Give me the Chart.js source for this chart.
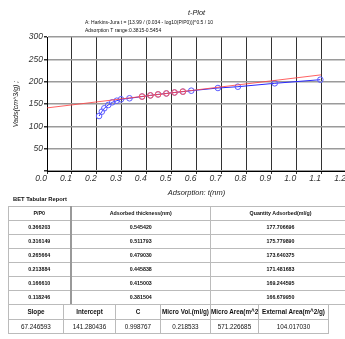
<!DOCTYPE html>
<html><head><meta charset="utf-8">
<script src="https://cdn.jsdelivr.net/npm/chart.js@4.4.0/dist/chart.umd.min.js"></script>
<style>
html,body{margin:0;padding:0;background:#fff;width:345px;height:339px;overflow:hidden;position:relative;font-family:"Liberation Sans",Arial,sans-serif;}
#wrap{position:absolute;left:0;top:0;width:345px;height:200px;overflow:hidden;}
#report{position:absolute;left:13px;top:196px;font-size:5.8px;font-weight:bold;color:#111;}
table{position:absolute;border-collapse:collapse;table-layout:fixed;color:#111;}
td{border:1px solid #bbb;text-align:center;white-space:nowrap;overflow:hidden;padding:0;height:13px;line-height:13px;}
#t1{left:8px;top:206px;width:342px;font-size:5.3px;font-weight:bold;border:1px solid #000;}
#t1 td:first-child{border-right:2px solid #999;}
#t2{left:8px;top:304px;width:320px;font-size:6.3px;border:1px solid #000;}
#t2 td{height:13.5px;line-height:13.5px;}
#t2 tr.h td{font-weight:bold;}
</style></head>
<body>
<div id="wrap"><canvas id="c" width="360" height="200" style="width:360px;height:200px"></canvas></div>
<div id="report">BET Tabular Report</div>
<table id="t1"><colgroup><col style="width:62px"><col style="width:140px"><col style="width:140px"></colgroup><tbody id="b1"></tbody></table>
<table id="t2"><colgroup><col style="width:55px"><col style="width:52px"><col style="width:45px"><col style="width:50px"><col style="width:48px"><col style="width:70px"></colgroup><tbody id="b2"></tbody></table>
<script>
// ---- data ----
const titleText = "t-Plot";
const subtitleLines = ["A: Harkins-Jura t = [13.99 / (0.034 - log10(P/P0))]^0.5 / 10", "Adsorption T range:0.3815-0.5454"];
const xTitle = "Adsorption: t(nm)";
const yTitle = "Vads(cm^3/g) ;";
const blueT = [0.209,0.220,0.230,0.246,0.262,0.280,0.297,0.331,0.3815,0.4150,0.4458,0.4790,0.5118,0.5454,0.579,0.686,0.766,0.914,1.097];
const blueQ = [123.1,132.8,140.4,147.8,153.8,157.4,160.5,162.8,166.68,169.24,171.48,173.64,175.78,177.71,179.8,185.8,188.7,196.3,204.4];
const pp0 = ["0.366203","0.316149","0.265664","0.213884","0.166610","0.118246"];
const thickness = ["0.545420","0.511793","0.479030","0.445838","0.415003","0.381504"];
const quantity = ["177.706696","175.779890","173.640375","171.481683","169.244595","166.679950"];
const fitT = [0, 1.1];
const fitQ = [141.28, 215.25];
const tableHeader = ["P/P0","Adsorbed thickness(nm)","Quantity Adsorbed(ml/g)"];
const summaryHeader = ["Slope","Intercept","C","Micro Vol.(ml/g)","Micro Area(m^2/g)","External Area(m^2/g)"];
const summaryValues = ["67.246593","141.280436","0.998767","0.218533","571.226685","104.017030"];
const xTicks = [0,1.2,0.1];
const yTicks = [0,300,50];

// ---- tables ----
function row(cells, cls){const tr=document.createElement('tr'); if(cls) tr.className=cls; cells.forEach(c=>{const td=document.createElement('td'); td.textContent=c; tr.appendChild(td);}); return tr;}
const b1=document.getElementById('b1');
b1.appendChild(row(tableHeader));
pp0.forEach((p,i)=>b1.appendChild(row([p,thickness[i],quantity[i]])));
const b2=document.getElementById('b2');
b2.appendChild(row(summaryHeader,'h'));
b2.appendChild(row(summaryValues));

// ---- chart ----
const FONT = "'Liberation Sans', Arial, sans-serif";
const textPlugin = {
  id:'texts',
  afterDraw(chart){
    const ctx=chart.ctx; const a=chart.chartArea;
    ctx.save();
    ctx.fillStyle='#111';
    ctx.textBaseline='middle';
    ctx.textAlign='center';
    ctx.font="italic 7.3px "+FONT;
    ctx.fillText(titleText,(a.left+a.right)/2,12.5);
    ctx.textAlign='left';
    ctx.font="5px "+FONT;
    ctx.fillText(subtitleLines[0],85,22.5);
    ctx.fillText(subtitleLines[1],85,31);
    ctx.restore();
  }
};
const tickFont={family:FONT,size:8.5,style:'italic'};
new Chart(document.getElementById('c'),{
  type:'scatter',
  data:{datasets:[
    {label:'fit',data:fitT.map((t,i)=>({x:t,y:fitQ[i]})),showLine:true,borderColor:'rgba(255,70,70,0.85)',borderWidth:1,pointRadius:0,order:1},
    {label:'ads',data:blueT.map((t,i)=>({x:t,y:blueQ[i]})),showLine:true,borderColor:'#2828ff',borderWidth:1,pointRadius:2.8,pointBorderColor:'#5a5aff',pointBorderWidth:1,pointBackgroundColor:'rgba(255,255,255,0)',order:2},
    {label:'range',data:thickness.map((t,i)=>({x:parseFloat(t),y:parseFloat(quantity[i])})),showLine:false,pointRadius:2.8,pointBorderColor:'#ff5a5a',pointBorderWidth:1,pointBackgroundColor:'rgba(255,255,255,0)',order:0}
  ]},
  options:{
    responsive:false,animation:false,
    layout:{padding:{top:37,left:0,right:14,bottom:0}},
    plugins:{legend:{display:false},tooltip:{enabled:false}},
    scales:{
      x:{type:'linear',min:xTicks[0],max:xTicks[1],
        ticks:{stepSize:xTicks[2],font:tickFont,color:'#333',padding:0,maxRotation:0,align:'end',callback:v=>v.toFixed(1)},
        grid:{color:'#333',lineWidth:1,tickLength:3,tickColor:'#333'},
        border:{color:'#000',width:1},
        title:{display:true,text:xTitle,font:{family:FONT,size:7.5,style:'italic'},color:'#222',padding:{top:0,bottom:2.5}},
        afterFit(s){s.height=29;}
      },
      y:{type:'linear',min:yTicks[0],max:yTicks[1],
        ticks:{stepSize:yTicks[2],font:tickFont,color:'#333',padding:1,callback:v=>v===0?'':String(v)},
        grid:{color:'#9a9a9a',lineWidth:1.5,tickLength:3,tickColor:'#333'},
        border:{color:'#000',width:1},
        title:{display:true,text:yTitle,font:{family:FONT,size:7,style:'italic'},color:'#222',padding:{top:12,bottom:0}},
        afterFit(s){s.width=47;}
      }
    }
  },
  plugins:[textPlugin]
});
</script>
</body></html>
